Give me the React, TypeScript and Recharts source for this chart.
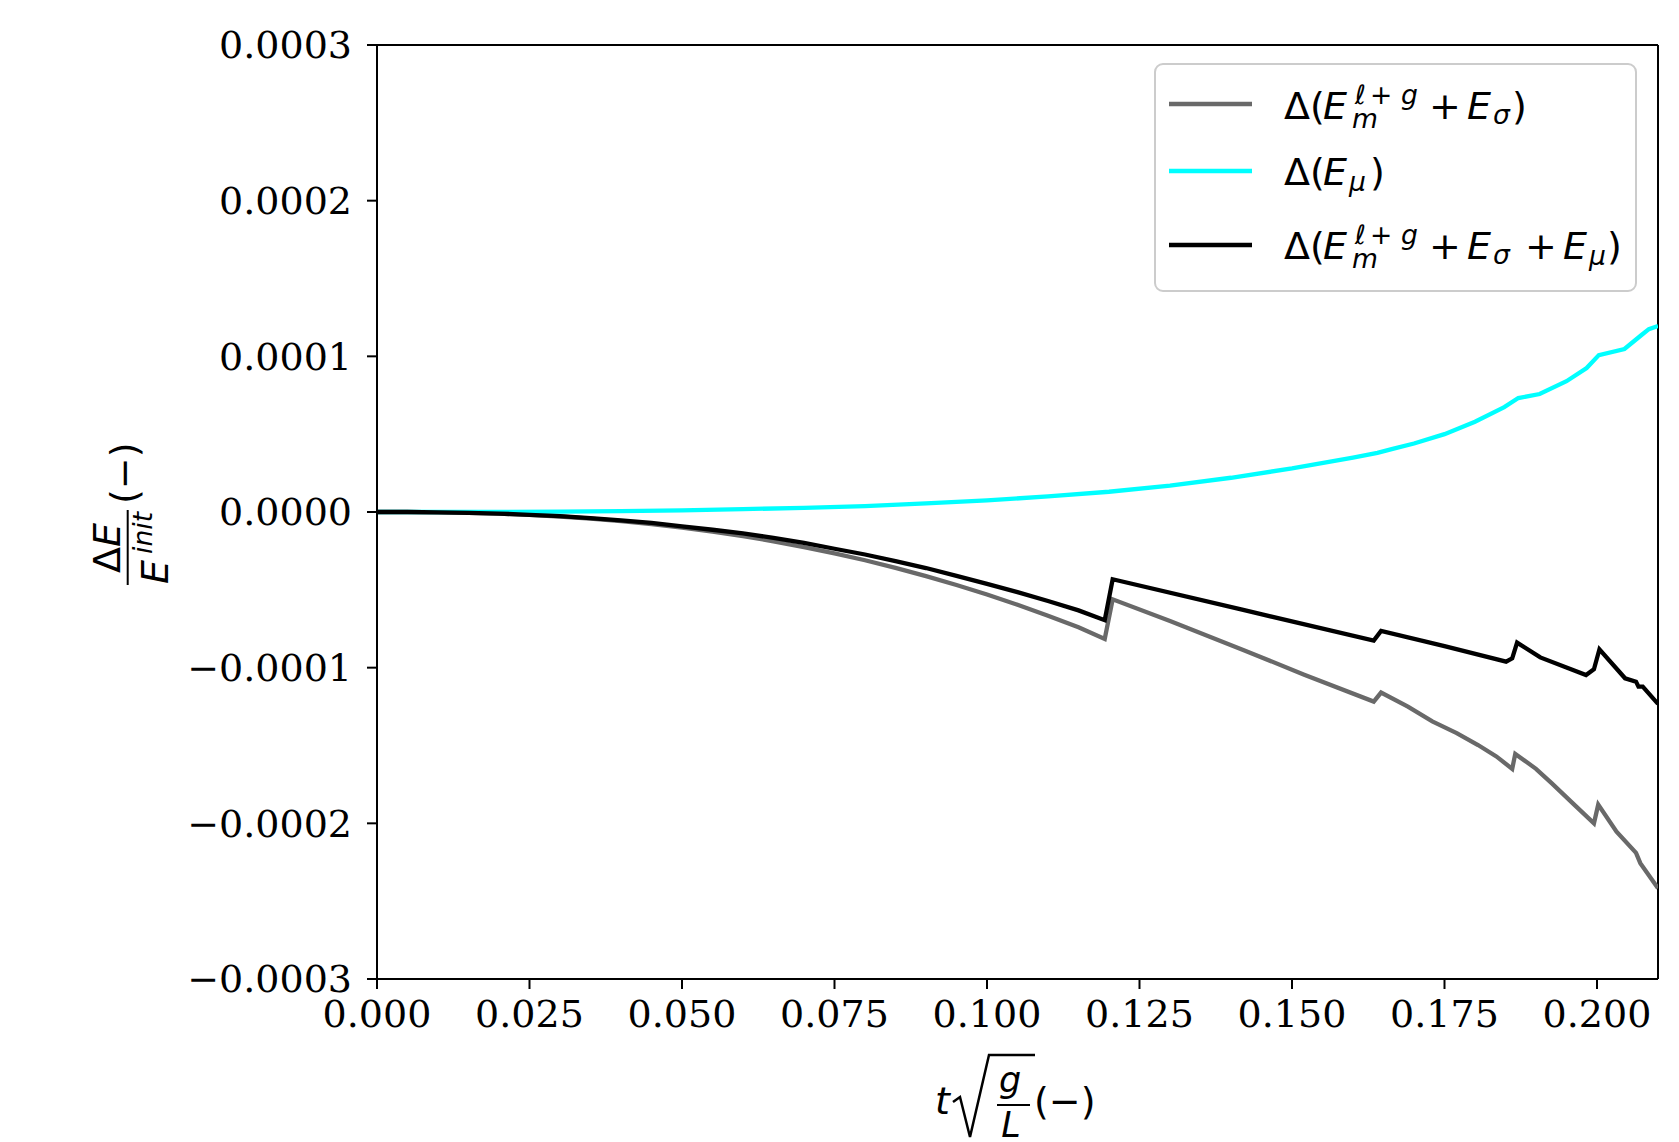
import React from 'react';
import { LineChart, Line, XAxis, YAxis, ReferenceLine } from 'recharts';

const W = 1679;
const H = 1142;

const xTicks = [0, 0.025, 0.05, 0.075, 0.1, 0.125, 0.15, 0.175, 0.2];
const yTicks = [-0.0003, -0.0002, -0.0001, 0, 0.0001, 0.0002, 0.0003];

// values in units of 1e-4
const tGray = [0, 0.005, 0.01, 0.015, 0.02, 0.025, 0.03, 0.035, 0.04, 0.045, 0.05, 0.055, 0.06, 0.065, 0.07, 0.075, 0.08, 0.085, 0.09, 0.095, 0.1, 0.105, 0.11, 0.115, 0.1193, 0.1206, 0.13, 0.142, 0.152, 0.1634, 0.1646, 0.169, 0.173, 0.177, 0.1805, 0.1835, 0.1861, 0.1866, 0.19, 0.1926, 0.196, 0.1995, 0.2002, 0.2032, 0.2064, 0.2071, 0.21];
const grayE4 = [0, 0, -0.002, -0.006, -0.011, -0.019, -0.029, -0.043, -0.059, -0.078, -0.1, -0.126, -0.155, -0.188, -0.225, -0.266, -0.31, -0.359, -0.412, -0.469, -0.53, -0.596, -0.666, -0.741, -0.815, -0.561, -0.7, -0.886, -1.045, -1.218, -1.16, -1.25, -1.345, -1.42, -1.497, -1.57, -1.65, -1.554, -1.65, -1.743, -1.87, -2.0, -1.88, -2.053, -2.19, -2.256, -2.417];

const tCyan = [0, 0.01, 0.02, 0.03, 0.04, 0.05, 0.06, 0.07, 0.08, 0.09, 0.1, 0.11, 0.12, 0.13, 0.14, 0.15, 0.16, 0.164, 0.1665, 0.17, 0.175, 0.18, 0.1848, 0.1871, 0.1906, 0.195, 0.1983, 0.2003, 0.2045, 0.2073, 0.2085, 0.21];
const cyanE4 = [0, 0, 0.001, 0.003, 0.006, 0.011, 0.018, 0.027, 0.038, 0.055, 0.075, 0.1, 0.13, 0.17, 0.22, 0.28, 0.35, 0.38, 0.405, 0.44, 0.5, 0.58, 0.674, 0.732, 0.758, 0.84, 0.925, 1.008, 1.047, 1.137, 1.175, 1.195];

const tBlack = [0, 0.005, 0.01, 0.015, 0.02, 0.025, 0.03, 0.035, 0.04, 0.045, 0.05, 0.055, 0.06, 0.065, 0.07, 0.075, 0.08, 0.085, 0.09, 0.095, 0.1, 0.105, 0.11, 0.115, 0.1193, 0.1206, 0.142, 0.1634, 0.1646, 0.175, 0.1851, 0.1861, 0.1869, 0.1907, 0.1982, 0.1995, 0.2004, 0.2046, 0.2064, 0.2068, 0.2075, 0.21];
const blackE4 = [0, 0, -0.002, -0.0055, -0.01, -0.018, -0.027, -0.04, -0.054, -0.07, -0.092, -0.114, -0.138, -0.166, -0.198, -0.236, -0.273, -0.315, -0.36, -0.41, -0.462, -0.515, -0.572, -0.632, -0.695, -0.432, -0.629, -0.826, -0.764, -0.862, -0.961, -0.94, -0.839, -0.934, -1.047, -1.01, -0.882, -1.068, -1.09, -1.122, -1.122, -1.233];

const build = (ts: number[], vs: number[]) => ts.map((t, i) => ({ t, v: vs[i] * 1e-4 }));

const series = [
  { key: 'gray', color: '#696969', data: build(tGray, grayE4) },
  { key: 'cyan', color: '#00ffff', data: build(tCyan, cyanE4) },
  { key: 'black', color: '#000000', data: build(tBlack, blackE4) },
];

const MATH = "'DejaVu Sans', sans-serif";
const SERIF = "'DejaVu Serif', serif";
const FS = 38;
const SS = 26.6;

type Piece = { s: string; x: number; dy?: number; small?: boolean; it?: boolean };

const legendPieces: Piece[][] = [
  [
    { s: 'Δ(', x: 1284 },
    { s: 'E', x: 1323, it: true },
    { s: 'ℓ', x: 1355, dy: -15, small: true },
    { s: '+', x: 1370, dy: -15, small: true },
    { s: 'g', x: 1401, dy: -15, small: true, it: true },
    { s: 'm', x: 1352, dy: 9, small: true, it: true },
    { s: '+', x: 1429 },
    { s: 'E', x: 1467, it: true },
    { s: 'σ', x: 1493, dy: 5, small: true, it: true },
    { s: ')', x: 1512 },
  ],
  [
    { s: 'Δ(', x: 1284 },
    { s: 'E', x: 1323, it: true },
    { s: 'μ', x: 1349, dy: 6, small: true, it: true },
    { s: ')', x: 1370 },
  ],
  [
    { s: 'Δ(', x: 1284 },
    { s: 'E', x: 1323, it: true },
    { s: 'ℓ', x: 1355, dy: -15, small: true },
    { s: '+', x: 1370, dy: -15, small: true },
    { s: 'g', x: 1401, dy: -15, small: true, it: true },
    { s: 'm', x: 1352, dy: 9, small: true, it: true },
    { s: '+', x: 1429 },
    { s: 'E', x: 1467, it: true },
    { s: 'σ', x: 1493, dy: 5, small: true, it: true },
    { s: '+', x: 1525 },
    { s: 'E', x: 1563, it: true },
    { s: 'μ', x: 1589, dy: 6, small: true, it: true },
    { s: ')', x: 1607 },
  ],
];

const MathRow = ({ y, pieces }: { y: number; pieces: Piece[] }) => (
  <g>
    {pieces.map((p, i) => (
      <text
        key={i}
        x={p.x}
        y={y + (p.dy || 0)}
        fontFamily={MATH}
        fontSize={p.small ? SS : FS}
        fontStyle={p.it ? 'italic' : 'normal'}
        fill="#000"
      >
        {p.s}
      </text>
    ))}
  </g>
);

const Overlay = () => {
  const rowY = [119, 185, 259];
  const lineY = [104, 171, 245];
  return (
    <svg width={W} height={H} style={{ position: 'absolute', left: 0, top: 0, pointerEvents: 'none' }}>
      {/* legend */}
      <rect x={1155} y={64} width={481} height={227} rx={8} ry={8} fill="#fff" fillOpacity={0.85} stroke="#cccccc" strokeWidth={2} />
      {series.map((s, i) => (
        <line key={s.key} x1={1169} x2={1252} y1={lineY[i]} y2={lineY[i]} stroke={s.color} strokeWidth={4.3} />
      ))}
      {legendPieces.map((p, i) => (
        <MathRow key={i} y={rowY[i]} pieces={p} />
      ))}

      {/* y label */}
      <g transform="translate(127.7,512) rotate(-90)">
        <text x={-36} y={-8} textAnchor="middle" fontFamily={MATH} fontSize={FS} fill="#000">
          Δ<tspan fontStyle="italic">E</tspan>
        </text>
        <line x1={-73} x2={2} y1={0} y2={0} stroke="#000" strokeWidth={2} />
        <text x={-72} y={40.5} fontFamily={MATH} fontSize={FS} fontStyle="italic" fill="#000">E</text>
        <text x={-42} y={24} fontFamily={MATH} fontSize={SS} fontStyle="italic" fill="#000">init</text>
        <text x={8} y={9} fontFamily={MATH} fontSize={FS} fill="#000">(−)</text>
      </g>

      {/* x label */}
      <g>
        <text x={935} y={1114} fontFamily={MATH} fontSize={FS} fontStyle="italic" fill="#000">t</text>
        <path d="M 953 1102 L 960 1097 L 970 1137 L 989 1055 L 1035 1055" fill="none" stroke="#000" strokeWidth={2.5} strokeLinejoin="miter" />
        <text x={1010} y={1092} textAnchor="middle" fontFamily={MATH} fontSize={35} fontStyle="italic" fill="#000">g</text>
        <line x1={997} x2={1030} y1={1105} y2={1105} stroke="#000" strokeWidth={2} />
        <text x={1011} y={1137} textAnchor="middle" fontFamily={MATH} fontSize={35} fontStyle="italic" fill="#000">L</text>
        <text x={1034} y={1114} fontFamily={MATH} fontSize={FS} fill="#000">(−)</text>
      </g>
    </svg>
  );
};

const fmtY = (v: number) => (v < -1e-12 ? '−' : '') + Math.abs(v).toFixed(4);
const fmtX = (v: number) => v.toFixed(3);

export default function App() {
  return (
    <div style={{ position: 'absolute', left: 0, top: 0, width: W, height: H, background: '#fff' }}>
      <LineChart width={W} height={H} margin={{ top: 45, right: 21, bottom: 63, left: 77 }}>
        <XAxis
          type="number"
          dataKey="t"
          domain={[0, 0.21]}
          ticks={xTicks}
          interval={0}
          allowDataOverflow
          height={100}
          tickSize={10}
          tickMargin={11}
          axisLine={{ stroke: '#000', strokeWidth: 2 }}
          tickLine={{ stroke: '#000', strokeWidth: 2 }}
          tick={{ fontFamily: SERIF, fontSize: FS, fill: '#000' }}
          tickFormatter={fmtX}
        />
        <YAxis
          type="number"
          domain={[-0.0003, 0.0003]}
          ticks={yTicks}
          interval={0}
          allowDataOverflow
          width={300}
          tickSize={10}
          tickMargin={15}
          axisLine={{ stroke: '#000', strokeWidth: 2 }}
          tickLine={{ stroke: '#000', strokeWidth: 2 }}
          tick={{ fontFamily: SERIF, fontSize: FS, fill: '#000' }}
          tickFormatter={fmtY}
        />
        <ReferenceLine y={0.0003} stroke="#000" strokeWidth={2} />
        <ReferenceLine x={0.21} stroke="#000" strokeWidth={2} />
        {series.map((s) => (
          <Line
            key={s.key}
            data={s.data}
            dataKey="v"
            type="linear"
            stroke={s.color}
            strokeWidth={4.3}
            dot={false}
            activeDot={false}
            isAnimationActive={false}
          />
        ))}
      </LineChart>
      <Overlay />
    </div>
  );
}
